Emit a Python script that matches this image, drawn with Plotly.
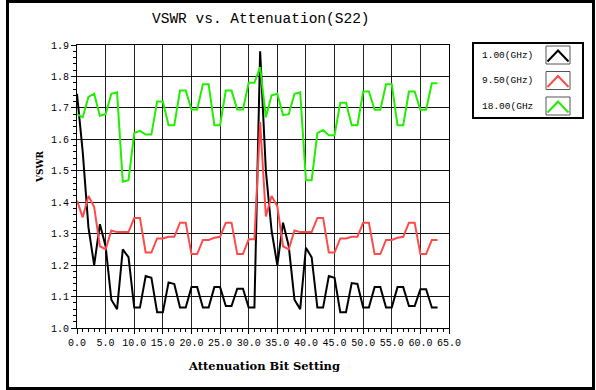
import plotly.graph_objects as go

# ---------------- data ----------------
bit_setting = list(range(64))

vswr_1ghz = [1.745, 1.56, 1.32, 1.20, 1.33, 1.26, 1.09, 1.06, 1.25, 1.225,
             1.065, 1.065, 1.165, 1.16, 1.05, 1.05, 1.145, 1.14, 1.065, 1.065,
             1.13, 1.13, 1.065, 1.065, 1.13, 1.13, 1.07, 1.07, 1.125, 1.125,
             1.065, 1.065, 1.88, 1.50, 1.31, 1.20, 1.335, 1.26, 1.09, 1.06,
             1.255, 1.225, 1.065, 1.065, 1.165, 1.16, 1.05, 1.05, 1.143, 1.14,
             1.065, 1.065, 1.13, 1.13, 1.065, 1.065, 1.13, 1.13, 1.07, 1.07,
             1.123, 1.123, 1.065, 1.065]

vswr_9_5ghz = [1.405, 1.352, 1.42, 1.385, 1.26, 1.25, 1.31, 1.305, 1.305, 1.305,
               1.35, 1.35, 1.24, 1.24, 1.285, 1.285, 1.29, 1.29, 1.335, 1.335,
               1.235, 1.235, 1.28, 1.28, 1.287, 1.29, 1.335, 1.335, 1.235, 1.235,
               1.282, 1.282, 1.655, 1.355, 1.42, 1.387, 1.26, 1.25, 1.31, 1.305,
               1.305, 1.305, 1.35, 1.35, 1.24, 1.24, 1.285, 1.285, 1.29, 1.29,
               1.335, 1.335, 1.235, 1.235, 1.28, 1.28, 1.287, 1.29, 1.335, 1.335,
               1.235, 1.235, 1.28, 1.28]

vswr_18ghz = [1.68, 1.67, 1.735, 1.745, 1.675, 1.68, 1.745, 1.75, 1.465, 1.47,
              1.62, 1.627, 1.615, 1.615, 1.72, 1.72, 1.645, 1.645, 1.755, 1.755,
              1.695, 1.695, 1.775, 1.775, 1.645, 1.645, 1.755, 1.755, 1.695, 1.695,
              1.78, 1.78, 1.83, 1.67, 1.74, 1.745, 1.677, 1.68, 1.745, 1.75,
              1.47, 1.47, 1.62, 1.63, 1.613, 1.613, 1.716, 1.716, 1.645, 1.645,
              1.752, 1.752, 1.694, 1.694, 1.775, 1.775, 1.645, 1.645, 1.752, 1.752,
              1.694, 1.694, 1.778, 1.778]

series_names = ["1.00(GHz)", "9.50(GHz)", "18.00(GHz"]
series_values = [vswr_1ghz, vswr_9_5ghz, vswr_18ghz]
series_colors = ["#000000", "#ff4a4a", "#22ee00"]

x_ticks = [0, 5, 10, 15, 20, 25, 30, 35, 40, 45, 50, 55, 60, 65]
y_ticks = [1.0, 1.1, 1.2, 1.3, 1.4, 1.5, 1.6, 1.7, 1.8, 1.9]

# ---------------- layout geometry ----------------
W, H = 596, 390
L, R, T, B = 77, 147, 45, 62
PW, PH = W - L - R, H - T - B


def px(x):
    return (x - L) / PW


def py(y):
    return (H - B - y) / PH


fig = go.Figure()
for name, vals, col in zip(series_names, series_values, series_colors):
    fig.add_trace(go.Scatter(x=bit_setting, y=vals, mode="lines", name=name,
                             line=dict(color=col, width=2), showlegend=False))

tickfont = dict(family="Liberation Mono", size=10, color="black")
fig.update_xaxes(range=[0, 65], tickvals=x_ticks, ticktext=[f"{v:.1f}" for v in x_ticks],
                 showgrid=True, gridcolor="#222222", gridwidth=1,
                 showline=True, mirror=True, linecolor="black", linewidth=1,
                 ticks="outside", ticklen=5, tickcolor="black", tickfont=tickfont,
                 minor=dict(dtick=1, ticks="outside", ticklen=3, tickcolor="black", showgrid=False),
                 zeroline=False)
fig.update_yaxes(range=[1.0, 1.9], tickvals=y_ticks, ticktext=[f"{v:.1f}" for v in y_ticks],
                 showgrid=True, gridcolor="#111111", gridwidth=1,
                 showline=True, mirror=True, linecolor="black", linewidth=1,
                 ticks="outside", ticklen=5, tickcolor="black", tickfont=tickfont,
                 minor=dict(dtick=0.02, ticks="outside", ticklen=3, tickcolor="black", showgrid=False),
                 zeroline=False)

shapes = []
annotations = []

# outer frame
shapes.append(dict(type="rect", xref="paper", yref="paper",
                   x0=px(7.5), x1=px(593.5), y0=py(388.5), y1=py(1.5),
                   line=dict(color="black", width=3)))

# title and axis titles
annotations.append(dict(text="VSWR vs. Attenuation(S22)", xref="paper", yref="paper",
                        x=px(261), y=py(19), showarrow=False, xanchor="center", yanchor="middle",
                        font=dict(family="Liberation Mono", size=14.5, color="black")))
annotations.append(dict(text="<b>Attenuation Bit Setting</b>", xref="paper", yref="paper",
                        x=px(264), y=py(366), showarrow=False, xanchor="center", yanchor="middle",
                        font=dict(family="DejaVu Serif", size=11.5, color="black")))
annotations.append(dict(text="<b>VSWR</b>", xref="paper", yref="paper", textangle=-90,
                        x=px(40), y=py(167), showarrow=False, xanchor="center", yanchor="middle",
                        font=dict(family="DejaVu Serif", size=9, color="black")))

# legend box
shapes.append(dict(type="rect", xref="paper", yref="paper",
                   x0=px(473), x1=px(583), y0=py(118), y1=py(43),
                   line=dict(color="black", width=2)))
row_centers = [55, 80.5, 106]
for name, col, yc in zip(series_names, series_colors, row_centers):
    annotations.append(dict(text=name, xref="paper", yref="paper",
                            x=px(535), y=py(yc), showarrow=False, xanchor="right", yanchor="middle",
                            font=dict(family="Liberation Mono", size=9.5, color="black")))
    shapes.append(dict(type="rect", xref="paper", yref="paper",
                       x0=px(546), x1=px(570), y0=py(yc + 9), y1=py(yc - 9),
                       line=dict(color="#555555", width=1)))
    shapes.append(dict(type="path", xref="paper", yref="paper",
                       path=f"M {px(547.5)},{py(yc + 6.5)} L {px(558)},{py(yc - 4.5)} L {px(568.5)},{py(yc + 6.5)}",
                       line=dict(color=col, width=2)))

fig.update_layout(width=W, height=H, margin=dict(l=L, r=R, t=T, b=B),
                  paper_bgcolor="white", plot_bgcolor="white",
                  shapes=shapes, annotations=annotations, showlegend=False)

fig.write_html("out.html")
